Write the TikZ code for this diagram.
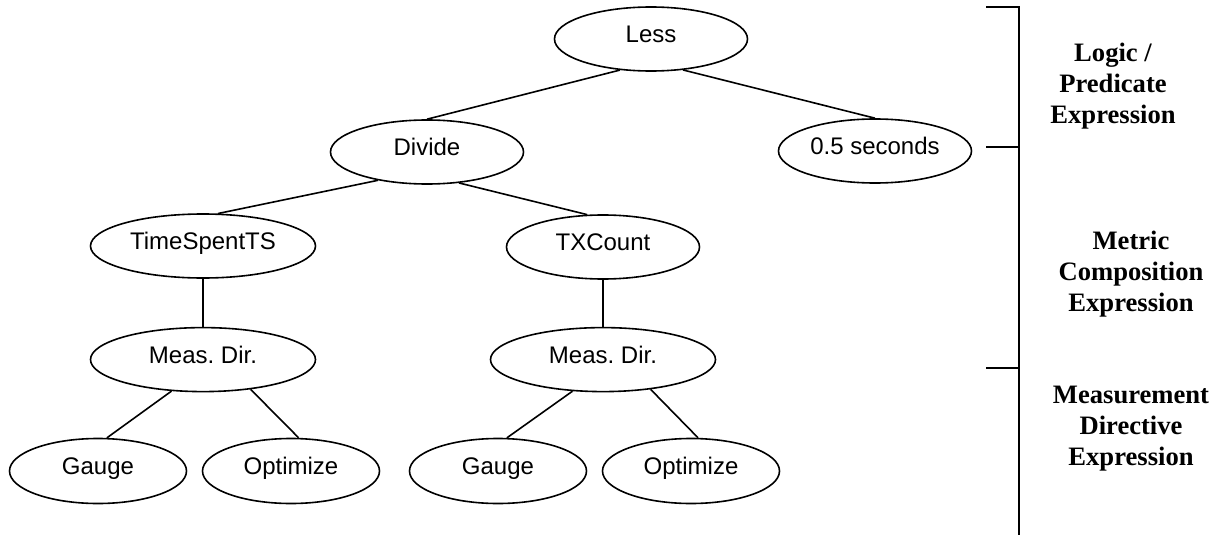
\documentclass[tikz,border=0pt]{standalone}
\usepackage{fontspec}
\setmainfont{Liberation Serif}
\setsansfont{Liberation Sans}
\usetikzlibrary{positioning, shapes.geometric}
\tikzset{
	every node/.append style={
		inner sep=0pt,
	},
	op/.append style={
		draw,
		ellipse,
		line width=0.8pt,
		minimum width=96.5pt,
		minimum height=32pt,
		text height=8.6pt,
		text depth=5pt,
		font={\sffamily\fontsize{12}{14}\selectfont}
	},
	wide/.append style={
		minimum width=112.5pt,
	},
	leaf/.append style={
		minimum width=88.5pt,
		minimum height=32.5pt,
	},
	tag/.append style={
		align = center,
		font={\bfseries\fontsize{13.3}{15.5}\selectfont}
	},
	link/.append style={
		line width=0.8pt,
	}
}

\begin{document}
\begin{tikzpicture}[x=0.5pt, y=-0.5pt]
\useasboundingbox (0,0) rectangle (1220,535);

\node(less)[op] at (651,39) {Less};

\node(divide)[op] at (427,152) {Divide};
\node(secs)[op] at (875,151) {0.5 seconds};

\node(tsts)[op, wide] at (203,246) {TimeSpentTS};
\node(txc)[op] at (603,247) {TXCount};

\node(md1)[op, wide, below=24pt of tsts]{Meas.\ Dir.};
\node(md2)[op, wide, below=23.5pt of txc]{Meas.\ Dir.};

\node(g1)[op, leaf] at (98,471) {Gauge};
\node(o1)[op, leaf] at (291,471) {Optimize};
\node(g2)[op, leaf] at (498,471) {Gauge};
\node(o2)[op, leaf] at (691,471) {Optimize};

\draw[link] (less.225) -- (divide.north);
\draw[link] (less.-44) -- (secs.north);
\draw[link] (divide.210) -- (tsts.65);
\draw[link] (divide.-44) -- (txc.116);
\draw[link] (tsts) -- (md1);
\draw[link] (txc) -- (md2);
\draw[link] (md1.225) -- (g1.75);
\draw[link] (md1.-32) -- (o1.77);
\draw[link] (md2.226) -- (g2.75);
\draw[link] (md2.-32) -- (o2.78);

% bracket on the right
\coordinate(t1) at (986,7);
\coordinate(t2) at (986,147);
\coordinate(t3) at (986,368);
\coordinate(b1) at (1019,7);
\coordinate(b2) at (1019,147);
\coordinate(b3) at (1019,368);
\coordinate(bend) at (1019,535);
\draw[link] (t1) -- (b1) -- (bend);
\draw[link] (t2) -- (b2);
\draw[link] (t3) -- (b3);

\node(logic)[tag] at (1113,86) {Logic /\\Predicate\\Expression};
\node(metric)[tag] at (1131,274) {Metric\\Composition\\Expression};
\node(meas)[tag] at (1131,429) {Measurement\\Directive\\Expression};

\end{tikzpicture}
\end{document}
